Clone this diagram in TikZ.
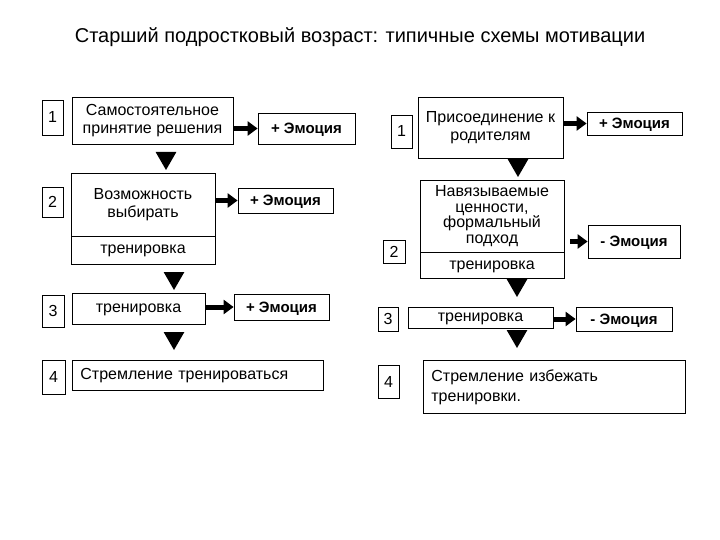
\documentclass[tikz,border=0pt]{standalone}
\usepackage{fontspec}
\setmainfont{Liberation Sans}
\usetikzlibrary{positioning}
\usetikzlibrary{shapes.geometric}
\usetikzlibrary{arrows.meta}

\begin{document}
\begin{tikzpicture}[x=1pt, y=-1pt,
        numbox/.style={rectangle, draw=black, thick, inner sep=0pt, text height=11pt, text depth=0pt, font=\fontsize{16}{18}\selectfont},
        textbox/.style={rectangle, draw=black, thick, inner sep=0pt, align=center, font=\fontsize{16}{18}\selectfont},
        onebox/.style={rectangle, draw=black, thick, inner sep=0pt, text height=8pt, text depth=0pt, font=\fontsize{16}{18}\selectfont},
        leftbox/.style={rectangle, draw=black, thick, inner xsep=8pt, align=left, anchor=north west, font=\fontsize{16}{20}\selectfont},
        emo/.style={rectangle, draw=black, thick, inner sep=0pt, text height=11pt, text depth=0pt, font=\bfseries\fontsize{15}{18}\selectfont},
        tri/.style={regular polygon, regular polygon sides=3, shape border rotate=180, fill=black, inner sep=0pt, minimum size=24pt},
        fat/.style={line width=5pt, -{Triangle[length=10pt, width=14pt]}}
      ]
        \useasboundingbox (0,0) rectangle (720,540);
        \node[font=\fontsize{20}{22}\selectfont] (title) at (360,37) {Старший подростковый возраст: типичные схемы мотивации};

        % left column
        \node[numbox, minimum width=21pt, minimum height=35pt]  (n1)  at (52.5,117.5)  {1};
        \node[textbox, minimum width=161pt, minimum height=47pt] (b1) at (152.5,120.5) {Самостоятельное\\принятие решения};
        \node[emo, minimum width=97pt, minimum height=31pt]      (e1) at (306.5,128.5) {+ Эмоция};
        \node[tri] (t1) at (166,158) {};

        \node[numbox, minimum width=21pt, minimum height=30pt]  (n2)  at (52.5,202)    {2};
        \node[textbox, minimum width=144pt, minimum height=63pt] (b2) at (143,204.5)   {Возможность\\выбирать};
        \node[onebox, minimum width=144pt, minimum height=28pt]  (b2t) at (143,250)    {тренировка};
        \node[emo, minimum width=95pt, minimum height=25pt]      (e2) at (285.5,200.5) {+ Эмоция};
        \node[tri] (t2) at (174,278) {};

        \node[numbox, minimum width=22pt, minimum height=32pt]  (n3)  at (53,311)     {3};
        \node[onebox, minimum width=133pt, minimum height=31pt]  (b3) at (138.5,308.5) {тренировка};
        \node[emo, minimum width=95pt, minimum height=26pt]      (e3) at (281.5,307)   {+ Эмоция};
        \node[tri] (t3) at (174,338) {};

        \node[numbox, minimum width=23pt, minimum height=34pt]  (n4)  at (53.5,377)   {4};
        \node[leftbox, text width=235pt, minimum height=30pt, inner ysep=5pt] (b4) at (72,360) {Стремление тренироваться};

        % right column
        \node[numbox, minimum width=21pt, minimum height=33pt]  (m1)  at (401.5,131.5) {1};
        \node[textbox, minimum width=145pt, minimum height=61pt] (c1) at (490.5,127.5) {Присоединение к\\родителям};
        \node[emo, minimum width=95pt, minimum height=23pt]      (f1) at (634.5,123.5) {+ Эмоция};
        \node[tri] (s1) at (518,165) {};

        \node[numbox, minimum width=22pt, minimum height=23pt]  (m2)  at (394,251.5)   {2};
        \node[textbox, minimum width=144pt, minimum height=72pt, font=\fontsize{16}{15.5}\selectfont] (c2) at (492,216) {Навязываемые\\ценности,\\формальный\\подход};
        \node[onebox, minimum width=144pt, minimum height=26pt]  (c2t) at (492,265)    {тренировка};
        \node[emo, minimum width=92pt, minimum height=33pt]      (f2) at (634,241.5)   {- Эмоция};
        \node[tri] (s2) at (517,285) {};

        \node[numbox, minimum width=20pt, minimum height=24pt]  (m3)  at (388,319)     {3};
        \node[onebox, minimum width=145pt, minimum height=21pt]  (c3) at (480.5,317.5) {тренировка};
        \node[emo, minimum width=96pt, minimum height=24pt]      (f3) at (624,319)     {- Эмоция};
        \node[tri] (s3) at (517,336) {};

        \node[numbox, minimum width=21pt, minimum height=33pt]  (m4)  at (388.5,381.5) {4};
        \node[leftbox, text width=246pt, minimum height=53pt, inner ysep=5pt] (c4) at (423,360) {Стремление избежать\\тренировки.};

        % fat arrows
        \draw[fat] (b1.east |- e1.west) -- (e1.west);
        \draw[fat] (b2.east |- e2.west) -- (e2.west);
        \draw[fat] (b3.east |- e3.west) -- (e3.west);
        \draw[fat] (c1.east |- f1.west) -- (f1.west);
        \draw[fat] ([xshift=6pt]c2.east |- f2.west) -- (f2.west);
        \draw[fat] (c3.east |- f3.west) -- (f3.west);
      \end{tikzpicture}
\end{document}
